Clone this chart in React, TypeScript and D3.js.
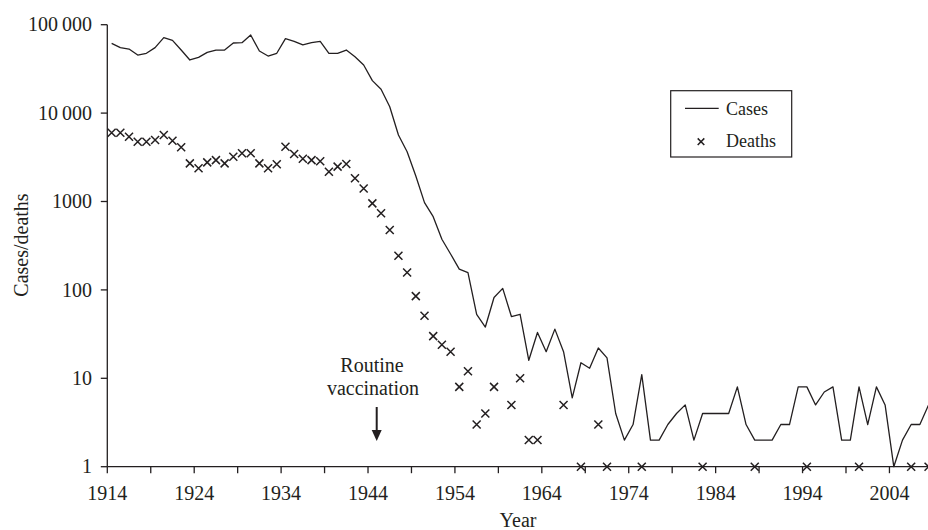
import React from 'react';
import { scaleLinear, scaleLog, line, range } from 'd3';

const width = 928;
const height = 530;

const caseYears = range(1914, 2009);
const cases = [
  61600, 55000, 53000, 45400, 47500, 55000, 71300, 66500, 51700, 39900,
  42700, 48700, 51700, 51700, 62100, 62600, 76400, 50400, 44200, 47500,
  69500, 64900, 59000, 62600, 64900, 47500, 47500, 51700, 43500, 35000,
  23300, 18600, 11800, 5650, 3650, 1940, 970, 673, 374, 255,
  172, 157, 53, 38, 82, 104, 50, 53, 16, 33,
  20, 36, 20, 6, 15, 13, 22, 17, 4, 2,
  3, 11, 2, 2, 3, 4, 5, 2, 4, 4,
  4, 4, 8, 3, 2, 2, 2, 3, 3, 8,
  8, 5, 7, 8, 2, 2, 8, 3, 8, 5,
  1, 2, 3, 3, 5
];

// years with no deaths are left out (log scale)
const deathYears = [
  1914, 1915, 1916, 1917, 1918, 1919, 1920, 1921, 1922, 1923,
  1924, 1925, 1926, 1927, 1928, 1929, 1930, 1931, 1932, 1933,
  1934, 1935, 1936, 1937, 1938, 1939, 1940, 1941, 1942, 1943,
  1944, 1945, 1946, 1947, 1948, 1949, 1950, 1951, 1952, 1953,
  1954, 1955, 1956, 1957, 1958, 1960, 1961, 1962, 1963, 1966,
  1968, 1970, 1971, 1975, 1982, 1988, 1994, 2000, 2006, 2008
];
const deaths = [
  6000, 6000, 5400, 4750, 4750, 4960, 5650, 4870, 4100, 2700,
  2375, 2770, 2940, 2700, 3210, 3510, 3510, 2700, 2375, 2640,
  4170, 3440, 3050, 2940, 2850, 2170, 2480, 2650, 1830, 1400,
  953, 735, 476, 243, 157, 85, 51, 30, 24, 20,
  8, 12, 3, 4, 8, 5, 10, 2, 2, 5,
  1, 3, 1, 1, 1, 1, 1, 1, 1, 1
];

const yTicks = [1, 10, 100, 1000, 10000, 100000];
const yTickLabels = ['1', '10', '100', '1000', '10\u2009000', '100\u2009000'];
const xTicks = range(1914, 2009, 5);
const xTickLabels = range(1914, 2009, 10);

const ink = '#231f20';
const font = '"Liberation Serif", "Times New Roman", serif';

const App = () => {
  const x = scaleLinear().domain([1914, 2009]).range([107.3, 932.9]);
  const y = scaleLog().domain([1, 100000]).range([466.7, 24.7]);

  const casesLine = line<number>()
    .x((d, i) => x(caseYears[i] + 0.5))
    .y(d => y(d));

  const arrowX = x(1945);

  return (
    <div style={{ position: 'absolute', left: 0, top: 0 }}>
      <svg width={width} height={height} style={{ display: 'block', background: '#fff' }} fontFamily={font}>
        {/* axes */}
        <line x1={x(1914)} x2={width} y1={y(1)} y2={y(1)} stroke={ink} strokeWidth={1.3} />
        <line x1={x(1914)} x2={x(1914)} y1={y(100000)} y2={y(1)} stroke={ink} strokeWidth={1.3} />
        {yTicks.map((t, i) => (
          <g key={t}>
            <line x1={x(1914) - 6.5} x2={x(1914)} y1={y(t)} y2={y(t)} stroke={ink} strokeWidth={1.3} />
            <text x={92} y={y(t)} dy="0.33em" textAnchor="end" fontSize={20} fill={ink}>
              {yTickLabels[i]}
            </text>
          </g>
        ))}
        {xTicks.map(t => (
          <line key={t} x1={x(t)} x2={x(t)} y1={y(1)} y2={y(1) + 6.5} stroke={ink} strokeWidth={1.3} />
        ))}
        {xTickLabels.map(t => (
          <text key={t} x={x(t)} y={500} textAnchor="middle" fontSize={20} fill={ink}>{t}</text>
        ))}
        <text transform="translate(28,245) rotate(-90)" textAnchor="middle" fontSize={20} fill={ink}>
          Cases/deaths
        </text>
        <text x={518} y={527} textAnchor="middle" fontSize={20} fill={ink}>Year</text>

        {/* cases */}
        <path d={casesLine(cases) || ''} fill="none" stroke={ink} strokeWidth={1.3} strokeLinejoin="round" />

        {/* deaths */}
        {deaths.map((d, i) => (
          <path
            key={deathYears[i]}
            transform={`translate(${x(deathYears[i] + 0.5)},${y(d)})`}
            d="M-4,-4L4,4M-4,4L4,-4"
            stroke={ink}
            strokeWidth={1.5}
          />
        ))}

        {/* annotation */}
        <text x={372} y={371.5} textAnchor="middle" fontSize={20} fill={ink}>Routine</text>
        <text x={373} y={395} textAnchor="middle" fontSize={20} fill={ink}>vaccination</text>
        <line x1={arrowX} x2={arrowX} y1={407} y2={431} stroke={ink} strokeWidth={2} />
        <path d={`M${arrowX - 5},${430}L${arrowX + 5},${430}L${arrowX},${441}Z`} fill={ink} />

        {/* legend */}
        <rect x={670.7} y={90.7} width={121} height={66.3} fill="#fff" stroke={ink} strokeWidth={1.2} />
        <line x1={685} x2={718.7} y1={108.3} y2={108.3} stroke={ink} strokeWidth={1.3} />
        <text x={726} y={115} fontSize={18} fill={ink}>Cases</text>
        <path transform="translate(701,141.7)" d="M-3.3,-3.3L3.3,3.3M-3.3,3.3L3.3,-3.3" stroke={ink} strokeWidth={1.5} />
        <text x={726} y={147.3} fontSize={18} fill={ink}>Deaths</text>
      </svg>
    </div>
  );
};

export default App;
